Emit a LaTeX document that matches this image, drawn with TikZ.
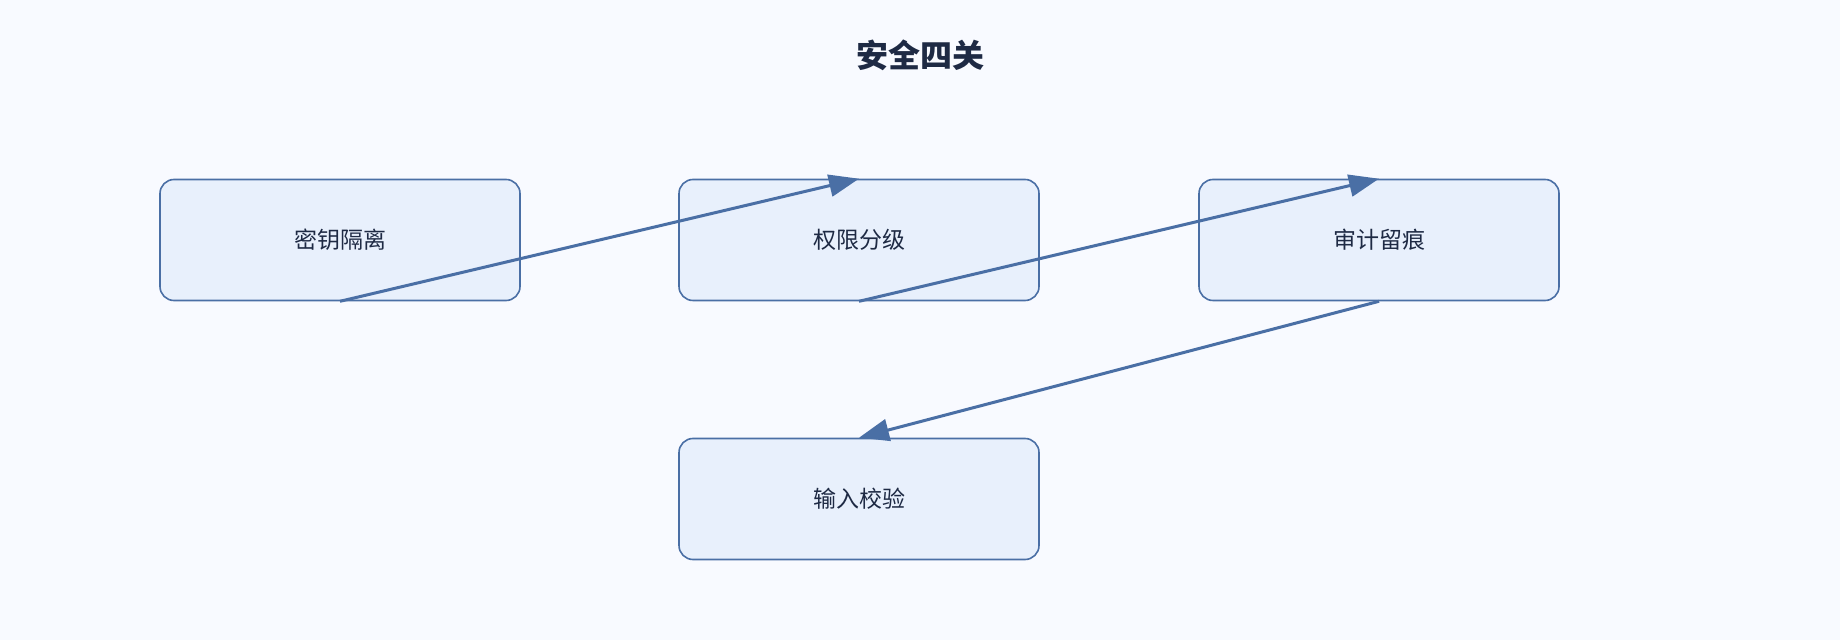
\documentclass[tikz,border=0pt]{standalone}
\usepackage{fontspec}
\setmainfont{Noto Sans CJK SC}
\usetikzlibrary{arrows.meta}
\definecolor{bg}{HTML}{F8FAFF}
\definecolor{boxfill}{HTML}{E8F0FC}
\definecolor{edge}{HTML}{4A6FA5}
\definecolor{txt}{HTML}{1E2A44}
\begin{document}
\begin{tikzpicture}[x=0.5pt,y=-0.5pt,
  box/.style={draw=edge,line width=0.8pt,fill=boxfill,rounded corners=7pt,minimum width=180pt,minimum height=60.5pt,inner sep=0pt,text=txt,font=\fontsize{11.5}{13}\selectfont},
  conn/.style={draw=edge,line width=1.5pt,-{Triangle[length=15pt,width=11pt]}}]
\fill[bg] (0,0) rectangle (1840,640);
\useasboundingbox (0,0) rectangle (1840,640);
\node[text=txt,font=\fontsize{16}{18}\selectfont\bfseries] (title) at (920,55) {安全四关};
\node[box] (a) at (340,240) {密钥隔离};
\node[box] (b) at (859,240) {权限分级};
\node[box] (c) at (1379,240) {审计留痕};
\node[box] (d) at (859,499) {输入校验};
\draw[conn] (a.south) -- (b.north);
\draw[conn] (b.south) -- (c.north);
\draw[conn] (c.south) -- (d.north);
\end{tikzpicture}
\end{document}
